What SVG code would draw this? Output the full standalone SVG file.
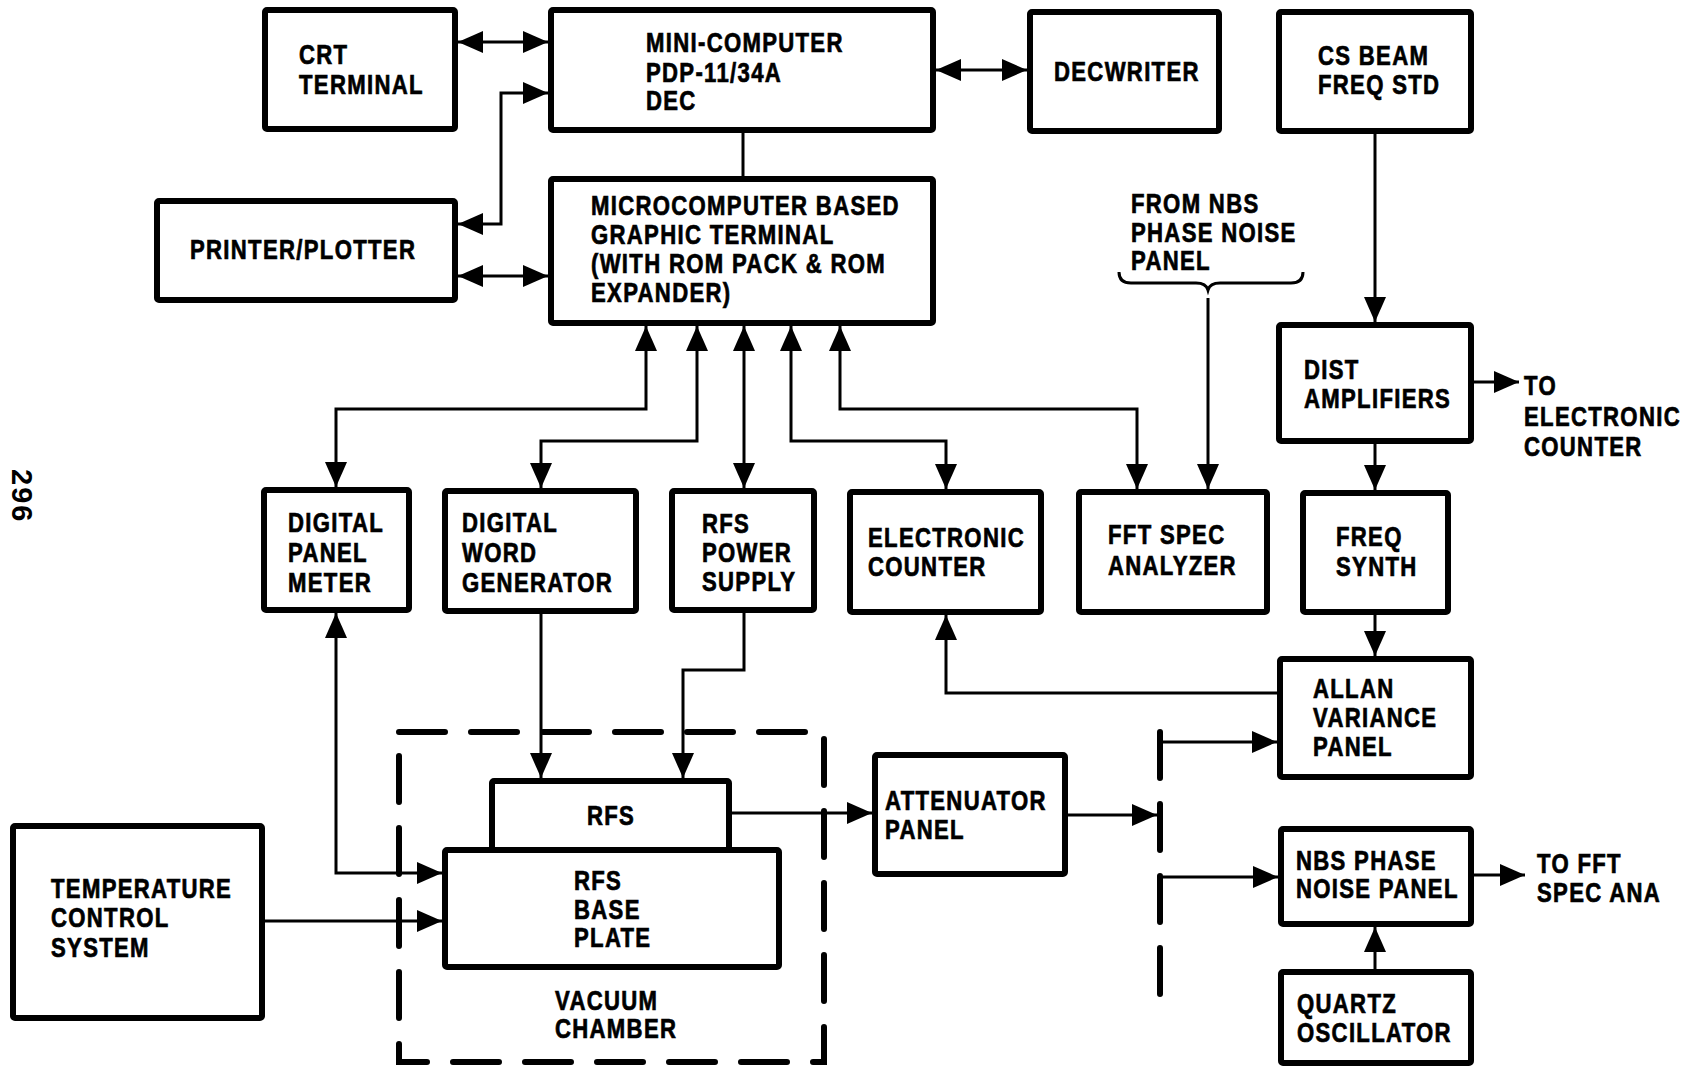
<svg xmlns="http://www.w3.org/2000/svg" width="1695" height="1068" viewBox="0 0 1695 1068">
<style>
.box{fill:#fff;stroke:#000;stroke-width:6;stroke-linejoin:round}
.t{font-family:"Liberation Sans",Arial,sans-serif;font-weight:bold;font-size:27px;letter-spacing:1.6px;fill:#000;stroke:#000;stroke-width:0.7}
.c{fill:none;stroke:#000;stroke-width:3}
.d{fill:none;stroke:#000;stroke-width:6;stroke-dasharray:46 26;stroke-linecap:round}
</style>
<defs>
<marker id="ah" markerUnits="userSpaceOnUse" markerWidth="26" markerHeight="24" refX="25" refY="11" orient="auto-start-reverse" viewBox="0 0 26 24">
<path d="M0,0 L25,11 L0,22 z" fill="#000"/>
</marker>
</defs>
<rect width="1695" height="1068" fill="#fff"/>
<g id="page-number"><text transform="translate(12,469) rotate(90)" style="font-family:'Liberation Sans',sans-serif;font-weight:bold;font-size:29px;letter-spacing:2px">296</text></g>

<g id="vacuum-chamber">
<path class="d" d="M399,732 H824 V1062 H399 Z"/>
<text class="t" transform="translate(555,1010) scale(.82,1)">VACUUM</text>
<text class="t" transform="translate(555,1038) scale(.82,1)">CHAMBER</text>
</g>
<g id="split-line"><path class="d" d="M1160,732 V997"/></g>

<g id="connectors">
<path class="c" d="M458,42 H548" marker-start="url(#ah)" marker-end="url(#ah)"/>
<path class="c" d="M548,93 H501 V224 H458" marker-start="url(#ah)" marker-end="url(#ah)"/>
<path class="c" d="M458,276 H548" marker-start="url(#ah)" marker-end="url(#ah)"/>
<path class="c" d="M936,70 H1027" marker-start="url(#ah)" marker-end="url(#ah)"/>
<path class="c" d="M743,132 V177"/>
<path class="c" d="M646,326 V409 H336 V487" marker-start="url(#ah)" marker-end="url(#ah)"/>
<path class="c" d="M697,326 V441 H541 V488" marker-start="url(#ah)" marker-end="url(#ah)"/>
<path class="c" d="M744,326 V488" marker-start="url(#ah)" marker-end="url(#ah)"/>
<path class="c" d="M791,326 V441 H946 V489" marker-start="url(#ah)" marker-end="url(#ah)"/>
<path class="c" d="M840,326 V409 H1137 V489" marker-start="url(#ah)" marker-end="url(#ah)"/>
<path class="c" d="M1208,298 V489" marker-end="url(#ah)"/>
<path class="c" d="M1119,272 Q1119,283 1131,283 H1196 Q1206,283 1208,290 Q1210,283 1220,283 H1291 Q1303,283 1303,272"/>
<path class="c" d="M1375,134 V322" marker-end="url(#ah)"/>
<path class="c" d="M1474,382 H1519" marker-end="url(#ah)"/>
<path class="c" d="M1375,443 V490" marker-end="url(#ah)"/>
<path class="c" d="M1375,615 V656" marker-end="url(#ah)"/>
<path class="c" d="M1277,693 H946 V615" marker-end="url(#ah)"/>
<path class="c" d="M1163,742 H1277" marker-end="url(#ah)"/>
<path class="c" d="M1163,877 H1278" marker-end="url(#ah)"/>
<path class="c" d="M1068,815 H1157" marker-end="url(#ah)"/>
<path class="c" d="M732,813 H872" marker-end="url(#ah)"/>
<path class="c" d="M1474,875 H1525" marker-end="url(#ah)"/>
<path class="c" d="M1375,969 V927" marker-end="url(#ah)"/>
<path class="c" d="M265,921 H442" marker-end="url(#ah)"/>
<path class="c" d="M336,613 V873 H442" marker-start="url(#ah)" marker-end="url(#ah)"/>
<path class="c" d="M541,614 V778" marker-end="url(#ah)"/>
<path class="c" d="M744,613 V670 H683 V778" marker-end="url(#ah)"/>
</g>

<g id="crt-terminal"><rect class="box" x="265" y="10" width="190" height="119" rx="2"/>
<text class="t" transform="translate(299,64) scale(.82,1)">CRT</text><text class="t" transform="translate(299,94) scale(.82,1)">TERMINAL</text></g>
<g id="mini-computer"><rect class="box" x="551" y="10" width="382" height="120" rx="2"/>
<text class="t" transform="translate(646,52) scale(.82,1)">MINI-COMPUTER</text><text class="t" transform="translate(646,82) scale(.82,1)">PDP-11/34A</text><text class="t" transform="translate(646,110) scale(.82,1)">DEC</text></g>
<g id="decwriter"><rect class="box" x="1030" y="12" width="189" height="119" rx="2"/>
<text class="t" transform="translate(1054,81) scale(.82,1)">DECWRITER</text></g>
<g id="cs-beam"><rect class="box" x="1279" y="12" width="192" height="119" rx="2"/>
<text class="t" transform="translate(1318,65) scale(.82,1)">CS BEAM</text><text class="t" transform="translate(1318,94) scale(.82,1)">FREQ STD</text></g>
<g id="printer-plotter"><rect class="box" x="157" y="201" width="298" height="99" rx="2"/>
<text class="t" transform="translate(190,259) scale(.82,1)">PRINTER/PLOTTER</text></g>
<g id="graphic-terminal"><rect class="box" x="551" y="179" width="382" height="144" rx="2"/>
<text class="t" transform="translate(591,215) scale(.82,1)">MICROCOMPUTER BASED</text><text class="t" transform="translate(591,244) scale(.82,1)">GRAPHIC TERMINAL</text><text class="t" transform="translate(591,273) scale(.82,1)">(WITH ROM PACK &amp; ROM</text><text class="t" transform="translate(591,302) scale(.82,1)">EXPANDER)</text></g>
<g id="from-nbs-label"><text class="t" transform="translate(1131,213) scale(.82,1)">FROM NBS</text><text class="t" transform="translate(1131,242) scale(.82,1)">PHASE NOISE</text><text class="t" transform="translate(1131,270) scale(.82,1)">PANEL</text></g>
<g id="dist-amplifiers"><rect class="box" x="1279" y="325" width="192" height="116" rx="2"/>
<text class="t" transform="translate(1304,379) scale(.82,1)">DIST</text><text class="t" transform="translate(1304,408) scale(.82,1)">AMPLIFIERS</text></g>
<g id="to-electronic-counter"><text class="t" transform="translate(1524,395) scale(.82,1)">TO</text><text class="t" transform="translate(1524,426) scale(.82,1)">ELECTRONIC</text><text class="t" transform="translate(1524,456) scale(.82,1)">COUNTER</text></g>
<g id="digital-panel-meter"><rect class="box" x="264" y="490" width="145" height="120" rx="2"/>
<text class="t" transform="translate(288,532) scale(.82,1)">DIGITAL</text><text class="t" transform="translate(288,562) scale(.82,1)">PANEL</text><text class="t" transform="translate(288,592) scale(.82,1)">METER</text></g>
<g id="digital-word-generator"><rect class="box" x="445" y="491" width="191" height="120" rx="2"/>
<text class="t" transform="translate(462,532) scale(.82,1)">DIGITAL</text><text class="t" transform="translate(462,562) scale(.82,1)">WORD</text><text class="t" transform="translate(462,592) scale(.82,1)">GENERATOR</text></g>
<g id="rfs-power-supply"><rect class="box" x="672" y="491" width="142" height="119" rx="2"/>
<text class="t" transform="translate(702,533) scale(.82,1)">RFS</text><text class="t" transform="translate(702,562) scale(.82,1)">POWER</text><text class="t" transform="translate(702,591) scale(.82,1)">SUPPLY</text></g>
<g id="electronic-counter"><rect class="box" x="850" y="492" width="191" height="120" rx="2"/>
<text class="t" transform="translate(868,547) scale(.82,1)">ELECTRONIC</text><text class="t" transform="translate(868,576) scale(.82,1)">COUNTER</text></g>
<g id="fft-spec-analyzer"><rect class="box" x="1079" y="492" width="188" height="120" rx="2"/>
<text class="t" transform="translate(1108,544) scale(.82,1)">FFT SPEC</text><text class="t" transform="translate(1108,575) scale(.82,1)">ANALYZER</text></g>
<g id="freq-synth"><rect class="box" x="1303" y="493" width="145" height="119" rx="2"/>
<text class="t" transform="translate(1336,546) scale(.82,1)">FREQ</text><text class="t" transform="translate(1336,576) scale(.82,1)">SYNTH</text></g>
<g id="allan-variance-panel"><rect class="box" x="1280" y="659" width="191" height="118" rx="2"/>
<text class="t" transform="translate(1313,698) scale(.82,1)">ALLAN</text><text class="t" transform="translate(1313,727) scale(.82,1)">VARIANCE</text><text class="t" transform="translate(1313,756) scale(.82,1)">PANEL</text></g>
<g id="attenuator-panel"><rect class="box" x="875" y="755" width="190" height="119" rx="2"/>
<text class="t" transform="translate(885,810) scale(.82,1)">ATTENUATOR</text><text class="t" transform="translate(885,839) scale(.82,1)">PANEL</text></g>
<g id="nbs-phase-noise-panel"><rect class="box" x="1281" y="829" width="190" height="95" rx="2"/>
<text class="t" transform="translate(1296,870) scale(.82,1)">NBS PHASE</text><text class="t" transform="translate(1296,898) scale(.82,1)">NOISE PANEL</text></g>
<g id="to-fft-label"><text class="t" transform="translate(1537,873) scale(.82,1)">TO FFT</text><text class="t" transform="translate(1537,902) scale(.82,1)">SPEC ANA</text></g>
<g id="quartz-oscillator"><rect class="box" x="1281" y="972" width="190" height="91" rx="2"/>
<text class="t" transform="translate(1297,1013) scale(.82,1)">QUARTZ</text><text class="t" transform="translate(1297,1042) scale(.82,1)">OSCILLATOR</text></g>
<g id="temperature-control"><rect class="box" x="13" y="826" width="249" height="192" rx="2"/>
<text class="t" transform="translate(51,898) scale(.82,1)">TEMPERATURE</text><text class="t" transform="translate(51,927) scale(.82,1)">CONTROL</text><text class="t" transform="translate(51,957) scale(.82,1)">SYSTEM</text></g>
<g id="rfs"><rect class="box" x="492" y="781" width="237" height="72" rx="2"/>
<text class="t" transform="translate(587,825) scale(.82,1)">RFS</text></g>
<g id="rfs-base-plate"><rect class="box" x="445" y="850" width="334" height="117" rx="2"/>
<text class="t" transform="translate(574,890) scale(.82,1)">RFS</text><text class="t" transform="translate(574,919) scale(.82,1)">BASE</text><text class="t" transform="translate(574,947) scale(.82,1)">PLATE</text></g>
</svg>
